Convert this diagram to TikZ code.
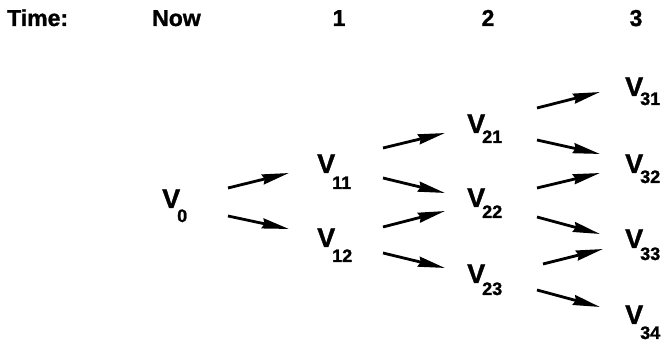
\documentclass[tikz,border=0pt]{standalone}
\usepackage{fontspec}
\setmainfont{Liberation Sans}[BoldFeatures={FakeBold=1.2}]
\usetikzlibrary{arrows.meta}
\newcommand{\vl}[2][12]{V\kern-3pt\raisebox{-#1pt}{\fontsize{18}{18}\selectfont #2}}
\tikzset{
  val/.style={anchor=base west, inner sep=0pt, font=\fontsize{27}{27}\selectfont\bfseries},
  hdr/.style={anchor=base, inner sep=0pt, font=\fontsize{23}{23}\selectfont\bfseries},
  arr/.style={line width=2.8pt, -{Stealth[length=27pt,width=10pt,inset=2pt]}}
}
\begin{document}
\begin{tikzpicture}[x=1pt,y=-1pt]
\useasboundingbox (0,0) rectangle (662,344);
% headers
\node[hdr,anchor=base west] (tm) at (7,26) {Time:};
\node[hdr,anchor=base west] (now) at (152,26) {Now};
\node[hdr] (h1) at (339,26) {1};
\node[hdr] (h2) at (488,26) {2};
\node[hdr] (h3) at (636,26) {3};
% values
\node[val] (v0)  at (162,208) {\vl[14]{0}};
\node[val] (v11) at (317,173) {\vl[16]{11}};
\node[val] (v12) at (317,247) {\vl[15]{12}};
\node[val] (v21) at (467,133) {\vl[10]{21}};
\node[val] (v22) at (467,207) {\vl[11]{22}};
\node[val] (v23) at (467,283) {\vl[12]{23}};
\node[val] (v31) at (625,96)  {\vl[9]{31}};
\node[val] (v32) at (625,173) {\vl[10]{32}};
\node[val] (v33) at (625,248) {\vl[12]{33}};
\node[val] (v34) at (625,324) {\vl[15]{34}};
% arrows
\draw[arr] ([shift={(66,-20)}]v0.base west) -- ([shift={(-28,0)}]v11.base west);
\draw[arr] ([shift={(66,8)}]v0.base west) -- ([shift={(-28,-18)}]v12.base west);
\draw[arr] ([shift={(66,-25)}]v11.base west) -- ([shift={(-22,0)}]v21.base west);
\draw[arr] ([shift={(66,5)}]v11.base west) -- ([shift={(-22,-14)}]v22.base west);
\draw[arr] ([shift={(66,-20)}]v12.base west) -- ([shift={(-22,4)}]v22.base west);
\draw[arr] ([shift={(66,6)}]v12.base west) -- ([shift={(-22,-15)}]v23.base west);
\draw[arr] ([shift={(70,-25)}]v21.base west) -- ([shift={(-25,-4)}]v31.base west);
\draw[arr] ([shift={(70,7)}]v21.base west) -- ([shift={(-25,-19)}]v32.base west);
\draw[arr] ([shift={(70,-19)}]v22.base west) -- ([shift={(-25,0)}]v32.base west);
\draw[arr] ([shift={(70,10)}]v22.base west) -- ([shift={(-25,-14)}]v33.base west);
\draw[arr] ([shift={(76,-19)}]v23.base west) -- ([shift={(-22,1)}]v33.base west);
\draw[arr] ([shift={(70,7)}]v23.base west) -- ([shift={(-25,-17)}]v34.base west);
\end{tikzpicture}
\end{document}
